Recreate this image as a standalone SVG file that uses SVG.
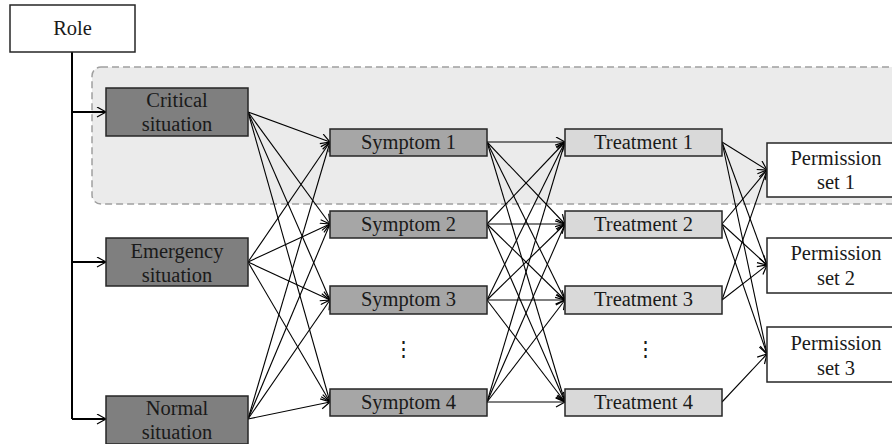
<svg xmlns="http://www.w3.org/2000/svg" width="892" height="444" viewBox="0 0 892 444">
<style>
  .box{stroke:#262626;stroke-width:1.5}
  .sit{fill:#7f7f7f}
  .sym{fill:#a6a6a6}
  .trt{fill:#d9d9d9}
  .wht{fill:#ffffff}
  text{font-family:"Liberation Serif","Times New Roman",serif;font-size:20.5px;fill:#1a1a1a;text-anchor:middle}
  .c{stroke:#000;stroke-width:1.1;fill:none;marker-end:url(#arr)}
  .r{stroke:#000;stroke-width:2;fill:none}
  .ra{stroke:#000;stroke-width:2;fill:none;marker-end:url(#arr)}
</style>
<defs>
  <marker id="arr" markerUnits="userSpaceOnUse" markerWidth="12" markerHeight="12" refX="10" refY="5.5" orient="auto">
    <path d="M1,0.5 L10,5.5 L1,10.5" fill="none" stroke="#000" stroke-width="1.2"/>
  </marker>
</defs>
<rect width="892" height="444" fill="#ffffff"/>
<g id="critical-region">
  <rect x="92" y="67" width="830" height="137" rx="9" fill="#ebebeb" stroke="#a0a0a0" stroke-width="1.5" stroke-dasharray="7,4"/>
</g>
<g id="connectors">
  <path class="r" d="M72,52 V419"/>
  <path class="ra" d="M72,112 H106"/>
  <path class="ra" d="M72,262 H106"/>
  <path class="ra" d="M72,419 H106"/>
  <path class="c" d="M248,112 L330,142"/>
  <path class="c" d="M248,112 L330,224"/>
  <path class="c" d="M248,112 L330,300"/>
  <path class="c" d="M248,112 L330,402"/>
  <path class="c" d="M248,262 L330,142"/>
  <path class="c" d="M248,262 L330,224"/>
  <path class="c" d="M248,262 L330,300"/>
  <path class="c" d="M248,262 L330,402"/>
  <path class="c" d="M248,419 L330,142"/>
  <path class="c" d="M248,419 L330,224"/>
  <path class="c" d="M248,419 L330,300"/>
  <path class="c" d="M248,419 L330,402"/>
  <path class="c" d="M487,142 L565,142"/>
  <path class="c" d="M487,142 L565,224"/>
  <path class="c" d="M487,142 L565,300"/>
  <path class="c" d="M487,142 L565,402"/>
  <path class="c" d="M487,224 L565,142"/>
  <path class="c" d="M487,224 L565,224"/>
  <path class="c" d="M487,224 L565,300"/>
  <path class="c" d="M487,224 L565,402"/>
  <path class="c" d="M487,300 L565,142"/>
  <path class="c" d="M487,300 L565,224"/>
  <path class="c" d="M487,300 L565,300"/>
  <path class="c" d="M487,300 L565,402"/>
  <path class="c" d="M487,402 L565,142"/>
  <path class="c" d="M487,402 L565,224"/>
  <path class="c" d="M487,402 L565,300"/>
  <path class="c" d="M487,402 L565,402"/>
  <path class="c" d="M722,142 L767,170"/>
  <path class="c" d="M722,142 L767,265"/>
  <path class="c" d="M722,142 L767,354"/>
  <path class="c" d="M722,224 L767,170"/>
  <path class="c" d="M722,224 L767,265"/>
  <path class="c" d="M722,224 L767,354"/>
  <path class="c" d="M722,300 L767,170"/>
  <path class="c" d="M722,300 L767,265"/>
  <path class="c" d="M722,402 L767,354"/>
</g>
<g id="role">
  <rect class="box wht" x="10" y="5" width="125" height="47"/>
  <text x="72.5" y="35">Role</text>
</g>
<g id="critical">
  <rect class="box sit" x="106" y="88" width="142" height="48"/>
  <text x="177" y="107">Critical</text>
  <text x="177" y="131">situation</text>
</g>
<g id="emergency">
  <rect class="box sit" x="106" y="238" width="142" height="48"/>
  <text x="177" y="258">Emergency</text>
  <text x="177" y="282">situation</text>
</g>
<g id="normal">
  <rect class="box sit" x="106" y="396" width="142" height="48"/>
  <text x="177" y="415">Normal</text>
  <text x="177" y="439">situation</text>
</g>
<g id="symptom1">
  <rect class="box sym" x="330" y="129" width="157" height="27"/>
  <text x="408.5" y="149">Symptom 1</text>
</g>
<g id="symptom2">
  <rect class="box sym" x="330" y="211" width="157" height="27"/>
  <text x="408.5" y="231">Symptom 2</text>
</g>
<g id="symptom3">
  <rect class="box sym" x="330" y="286" width="157" height="28"/>
  <text x="408.5" y="306">Symptom 3</text>
</g>
<g id="symptom-dots">
  <text x="403" y="356">⋮</text>
</g>
<g id="symptom4">
  <rect class="box sym" x="330" y="389" width="157" height="27"/>
  <text x="408.5" y="409">Symptom 4</text>
</g>
<g id="treatment1">
  <rect class="box trt" x="565" y="129" width="157" height="27"/>
  <text x="643.5" y="149">Treatment 1</text>
</g>
<g id="treatment2">
  <rect class="box trt" x="565" y="211" width="157" height="27"/>
  <text x="643.5" y="231">Treatment 2</text>
</g>
<g id="treatment3">
  <rect class="box trt" x="565" y="286" width="157" height="28"/>
  <text x="643.5" y="306">Treatment 3</text>
</g>
<g id="treatment-dots">
  <text x="645" y="356">⋮</text>
</g>
<g id="treatment4">
  <rect class="box trt" x="565" y="389" width="157" height="27"/>
  <text x="643.5" y="409">Treatment 4</text>
</g>
<g id="permission1">
  <rect class="box wht" x="767" y="143" width="140" height="54"/>
  <text x="836" y="165">Permission</text>
  <text x="836" y="189">set 1</text>
</g>
<g id="permission2">
  <rect class="box wht" x="767" y="238" width="140" height="55"/>
  <text x="836" y="260">Permission</text>
  <text x="836" y="285">set 2</text>
</g>
<g id="permission3">
  <rect class="box wht" x="767" y="327" width="140" height="55"/>
  <text x="836" y="350">Permission</text>
  <text x="836" y="375">set 3</text>
</g>
</svg>
